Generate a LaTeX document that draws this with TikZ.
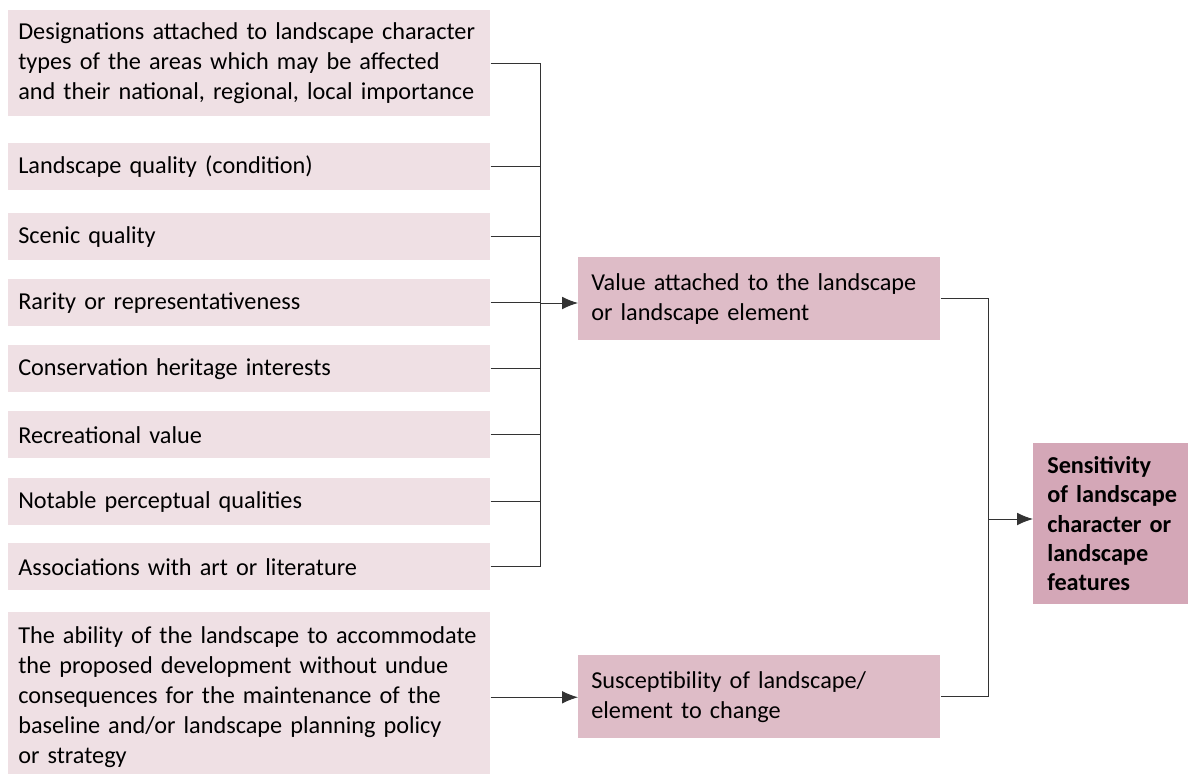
\documentclass[tikz,border=0pt]{standalone}
\usepackage{fontspec}
\setmainfont{Carlito}
\usetikzlibrary{arrows.meta}

\definecolor{factorpink}{RGB}{239,224,228}
\definecolor{valuepink}{RGB}{222,188,199}
\definecolor{sensepink}{RGB}{212,167,183}

\newcommand{\boxfont}{\fontsize{18.2}{22.5}\selectfont}

\tikzset{
  factor/.style={fill=factorpink, anchor=north west, inner xsep=7.5pt, inner ysep=0pt,
    text width=346.5pt, minimum height=35.25pt, align=left, font=\boxfont},
  middlebox/.style={fill=valuepink, anchor=north west, inner xsep=9.75pt, inner ysep=0pt,
    text width=252pt, minimum height=62.25pt, align=left, font=\boxfont},
  link/.style={draw=black!80, line width=0.7pt},
  arrowlink/.style={link, -{Latex[length=12pt,width=9.5pt]}},
}

\begin{document}
\begin{tikzpicture}[x=0.75pt,y=0.75pt,yscale=-1]
\useasboundingbox (0,0) rectangle (1188,774);

% Text Node
\node [factor, minimum height=79.5pt] (desig) at (8,10) {\mbox{Designations attached to landscape character}\\\mbox{types of the areas which may be affected}\\\mbox{and their national, regional, local importance}};
% Text Node
\node [factor] (quality) at (8,143) {Landscape quality (condition)};
% Text Node
\node [factor] (scenic) at (8,213) {Scenic quality};
% Text Node
\node [factor] (rarity) at (8,279) {Rarity or representativeness};
% Text Node
\node [factor] (conserv) at (8,345) {Conservation heritage interests};
% Text Node
\node [factor] (recreat) at (8,411) {Recreational value};
% Text Node
\node [factor] (percept) at (8,478) {Notable perceptual qualities};
% Text Node
\node [factor] (assoc) at (8,543) {Associations with art or literature};
% Text Node
\node [factor, minimum height=127.5pt] (ability) at (8,612) {\mbox{The ability of the landscape to accommodate}\\\mbox{the proposed development without undue}\\\mbox{consequences for the maintenance of the}\\\mbox{baseline and/or landscape planning policy}\\or strategy};

% Text Node
\node [middlebox] (value) at (578,257) {Value attached to the landscape\\or landscape element};
% Text Node
\node [middlebox] (suscept) at (578,655) {Susceptibility of landscape/\\element to change};
% Text Node
\node [fill=sensepink, anchor=north west, inner xsep=10.5pt, inner ysep=0pt, text width=100pt,
  minimum height=120.75pt, align=left, font=\fontsize{18.2}{22}\selectfont\bfseries] (sensit) at (1033,443)
  {Sensitivity\\of landscape\\character or\\landscape\\features};

% Bus lines
\coordinate (leftbus) at (540,303);
\coordinate (rightbus) at (988,519);

\foreach \n in {desig,quality,scenic,rarity,conserv,recreat,percept,assoc}
  \draw [link] (\n.east) -- (\n.east -| leftbus);
\draw [link] (desig.east -| leftbus) -- (assoc.east -| leftbus);
\draw [arrowlink] (leftbus) -- (leftbus -| value.west);

\draw [arrowlink] (ability.east) -- (ability.east -| suscept.west);

\draw [link] (value.east) -- (value.east -| rightbus) -- (suscept.east -| rightbus) -- (suscept.east);
\draw [arrowlink] (rightbus) -- (rightbus -| sensit.west);

\end{tikzpicture}
\end{document}
